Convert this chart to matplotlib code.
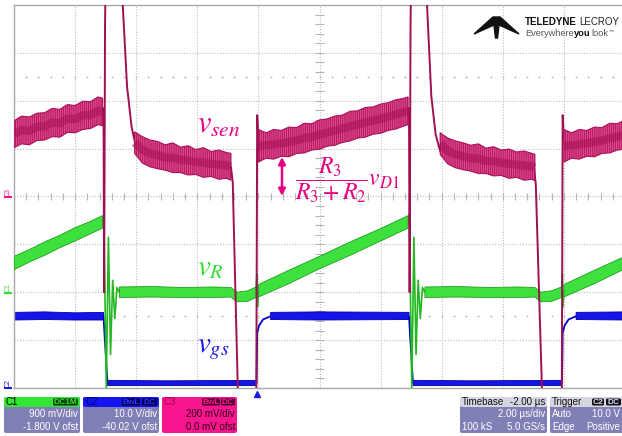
import numpy as np
import matplotlib.pyplot as plt
from matplotlib.patches import FancyBboxPatch, Polygon

plt.rcParams['mathtext.fontset'] = 'stix'
plt.rcParams['hatch.linewidth'] = 0.6

W, H = 622, 436
nan = np.nan

# time in us (2 us/div, 10 div), level in screen divisions (-4..4)
# C3 : v_sen
vsen_t = [0.00, 2.93, 2.95, 2.98, 3.02, 3.50, 3.56, 3.70, 3.85, 3.97, 4.30, 5.00, 6.00, 7.10, 7.16, 7.34,
          7.93, 7.96, 7.99, 8.05, 9.00, 10.00, 11.00, 12.00, 12.93, 12.95, 12.98, 13.02, 13.45, 13.52,
          13.66, 13.80, 13.95, 14.30, 15.00, 16.00, 17.02, 17.08, 17.30, 17.93, 17.96, 17.99, 18.05,
          19.00, 20.00]
vsen_v = [1.33, 1.84, -2.00, 3.60, 5.50, 5.50, 4.00, 2.30, 1.45, 1.10, 0.92, 0.80, 0.72, 0.62, 0.30, -4.40,
          -4.40, 1.70, 1.30, 1.05, 1.15, 1.32, 1.50, 1.66, 1.84, -2.00, 3.60, 5.50, 5.50, 4.00,
          2.10, 1.30, 0.95, 0.80, 0.72, 0.66, 0.62, 0.25, -4.40, -4.40, 1.70, 1.30, 1.05,
          1.15, 1.32]

# noise envelope of C3 (nan separates segments)
vsen_band_t = [0.0, 0.25, 0.5, 0.75, 1.0, 1.25, 1.5, 1.75, 2.0, 2.25, 2.5, 2.75, 2.9, nan,
               3.95, 4.2, 4.45, 4.7, 4.95, 5.2, 5.45, 5.7, 5.95, 6.2, 6.45, 6.7, 6.95, 7.1, nan,
               8.0, 8.25, 8.5, 8.75, 9.0, 9.25, 9.5, 9.75, 10.0, 10.25, 10.5, 10.75, 11.0, 11.25,
               11.5, 11.75, 12.0, 12.25, 12.5, 12.75, 12.9, nan,
               13.95, 14.2, 14.45, 14.7, 14.95, 15.2, 15.45, 15.7, 15.95, 16.2, 16.45, 16.7, 16.95, 17.05, nan,
               18.0, 18.25, 18.5, 18.75, 19.0, 19.25, 19.5, 19.75, 20.0]
vsen_band_hi = [1.58, 1.68, 1.66, 1.74, 1.75, 1.84, 1.82, 1.92, 1.90, 1.99, 1.98, 2.08, 2.05, nan,
                1.35, 1.25, 1.18, 1.15, 1.08, 1.12, 1.03, 1.06, 0.98, 1.02, 0.94, 0.97, 0.92, 0.90, nan,
                1.40, 1.33, 1.40, 1.38, 1.45, 1.44, 1.53, 1.52, 1.60, 1.62, 1.68, 1.70, 1.78, 1.79,
                1.86, 1.87, 1.93, 1.96, 2.02, 2.05, 2.08, nan,
                1.33, 1.22, 1.16, 1.12, 1.07, 1.10, 1.01, 1.04, 0.97, 0.99, 0.93, 0.95, 0.90, 0.88, nan,
                1.40, 1.33, 1.40, 1.38, 1.45, 1.44, 1.53, 1.52, 1.60]
vsen_band_lo = [1.02, 1.10, 1.08, 1.17, 1.18, 1.25, 1.24, 1.34, 1.33, 1.40, 1.42, 1.50, 1.48, nan,
                0.90, 0.70, 0.62, 0.58, 0.55, 0.50, 0.50, 0.45, 0.46, 0.40, 0.42, 0.36, 0.38, 0.34, nan,
                0.72, 0.80, 0.78, 0.84, 0.83, 0.90, 0.91, 0.97, 0.99, 1.05, 1.07, 1.13, 1.16, 1.22,
                1.24, 1.30, 1.32, 1.38, 1.41, 1.47, 1.50, nan,
                0.88, 0.68, 0.60, 0.56, 0.53, 0.48, 0.48, 0.43, 0.44, 0.38, 0.40, 0.34, 0.36, 0.33, nan,
                0.72, 0.80, 0.78, 0.84, 0.83, 0.90, 0.91, 0.97, 0.99]

# C1 : v_R
vr_t = [0.00, 2.90, 2.94, 3.02, 3.09, 3.16, 3.23, 3.30, 3.37, 3.45, 7.10, 7.30, 7.65, 7.92, 7.95, 7.97, 8.00,
        12.90, 12.94, 13.02, 13.09, 13.16, 13.23, 13.30, 13.37, 13.45, 17.05, 17.25, 17.60, 17.92, 17.95,
        17.97, 18.00, 20.00]
vr_v = [-1.39, -0.53, -0.38, -4.00, -0.85, -3.30, -1.75, -2.55, -1.90, -2.00, -2.00, -2.10, -2.08, -2.00, -1.62,
        -2.30, -1.97, -0.53, -0.38, -4.00, -0.85, -3.30, -1.75, -2.55, -1.90, -2.00, -2.00, -2.10, -2.08,
        -2.00, -1.62, -2.30, -1.97, -1.39]
vr_band_t = [0.0, 0.5, 1.0, 1.5, 2.0, 2.5, 2.9, nan,
             3.45, 4.5, 5.5, 6.5, 7.1, 7.3, 7.65, 7.92, nan,
             8.0, 9.0, 10.0, 11.0, 12.0, 12.9, nan,
             13.45, 14.5, 15.5, 16.5, 17.05, 17.25, 17.6, 17.92, nan,
             18.0, 19.0, 20.0]
vr_band_hi = [-1.25, -1.11, -0.95, -0.81, -0.65, -0.52, -0.40, nan,
              -1.89, -1.88, -1.90, -1.89, -1.90, -2.00, -1.97, -1.89, nan,
              -1.84, -1.54, -1.25, -0.95, -0.67, -0.40, nan,
              -1.89, -1.88, -1.90, -1.89, -1.90, -2.00, -1.97, -1.89, nan,
              -1.84, -1.54, -1.25]
vr_band_lo = [-1.53, -1.37, -1.23, -1.07, -0.93, -0.78, -0.66, nan,
              -2.11, -2.10, -2.11, -2.11, -2.10, -2.20, -2.19, -2.11, nan,
              -2.10, -1.82, -1.51, -1.23, -0.93, -0.66, nan,
              -2.11, -2.10, -2.11, -2.11, -2.10, -2.20, -2.19, -2.11, nan,
              -2.10, -1.82, -1.51]

# C2 : v_gs
vgs_t = [0.00, 2.93, 2.97, 3.06, 7.94, 7.96, 8.02, 8.15, 8.40, 12.93, 12.97, 13.06, 17.94, 17.96, 18.02,
         18.15, 18.40, 20.00]
vgs_v = [-2.50, -2.50, -2.95, -3.90, -3.90, -2.85, -2.70, -2.57, -2.50, -2.50, -2.95, -3.90, -3.90, -2.85,
         -2.70, -2.57, -2.50, -2.50]
vgs_band_t = [0.0, 1.0, 2.0, 2.93, nan, 3.06, 5.0, 7.94, nan, 8.4, 10.0, 12.93, nan,
              13.06, 15.0, 17.94, nan, 18.4, 20.0]
vgs_band_hi = [-2.42, -2.41, -2.43, -2.42, nan, -3.84, -3.85, -3.84, nan, -2.42, -2.41, -2.42, nan,
               -3.84, -3.85, -3.84, nan, -2.42, -2.41]
vgs_band_lo = [-2.58, -2.57, -2.58, -2.58, nan, -3.95, -3.95, -3.95, nan, -2.57, -2.58, -2.57, nan,
               -3.95, -3.95, -3.95, nan, -2.57, -2.58]

MAG = '#E8007E'
GRN = '#33DD33'
BLU = '#1A1AE6'

fig = plt.figure(figsize=(W / 100, H / 100), dpi=100)
fig.patch.set_facecolor('white')

ax = fig.add_axes([14 / W, 1 - 388 / H, (625 - 14) / W, 383 / H])
ax.set_xlim(0, 20)
ax.set_ylim(-4, 4)
ax.set_xticks([])
ax.set_yticks([])
for s in ax.spines.values():
    s.set_color('#A8A8A8')
    s.set_linewidth(1)

grid_kw = dict(color='#BDBDBD', lw=0.8, ls=(0, (1, 1.5)), zorder=0)
for gx in range(2, 20, 2):
    ax.axvline(gx, **grid_kw)
for gy in range(-3, 4):
    ax.axhline(gy, **grid_kw)
tk = np.arange(0.4, 20, 0.4)
ax.vlines(tk, -0.07, 0.07, color='#B5B5B5', lw=0.8, zorder=0)
ty = np.arange(-3.8, 4, 0.2)
ax.hlines(ty, 9.85, 10.15, color='#B5B5B5', lw=0.8, zorder=0)
for row in (2.5, -2.5):
    ax.plot(tk, np.full_like(tk, row), ls='none', marker='s', ms=1.1, mew=0, color='#AFAFAF', zorder=0)

# traces
ax.plot(vgs_t, vgs_v, color='#0000C8', lw=1.3, zorder=2)
ax.fill_between(vgs_band_t, vgs_band_lo, vgs_band_hi, facecolor='#1515E8', edgecolor='#0000A8',
                lw=0.6, zorder=2)
ax.plot(vr_t, vr_v, color='#22B822', lw=1.2, zorder=3)
ax.fill_between(vr_band_t, vr_band_lo, vr_band_hi, facecolor='#3DE03D', edgecolor='#1F9F1F',
                lw=0.6, zorder=3)
ax.plot(vsen_t, vsen_v, color='#A0104F', lw=1.4, zorder=4)
ax.fill_between(vsen_band_t, vsen_band_lo, vsen_band_hi, facecolor='#E24A8E', edgecolor='#A8125A',
                hatch='||||||||', lw=0.8, zorder=4)
vsen_mid = (np.array(vsen_band_lo) + np.array(vsen_band_hi)) / 2
ax.plot(vsen_band_t, vsen_mid, color='#A30F55', lw=6, alpha=0.55, solid_capstyle='butt', zorder=4)

# overlay in pixel coordinates
ov = fig.add_axes([0, 0, 1, 1])
ov.set_xlim(0, W)
ov.set_ylim(H, 0)
ov.axis('off')

ov.text(197, 133, r'$v_{sen}$', color=MAG, fontsize=22, va='baseline')
ov.text(197, 275, r'$v_R$', color=GRN, fontsize=21, va='baseline')
ov.text(197, 352, r'$v_{gs}$', color=BLU, fontsize=21, va='baseline')
ov.text(295, 180, r'$\dfrac{R_3}{R_3+R_2}v_{D1}$', color=MAG, fontsize=17, va='center')
ov.annotate('', xy=(282, 157), xytext=(282, 196),
            arrowprops=dict(arrowstyle='<|-|>', color=MAG, lw=1.8, mutation_scale=10,
                            shrinkA=0, shrinkB=0))

# channel markers on the left
for lab, yy, col in (('C3', 197, '#FF1493'), ('C1', 293, GRN), ('C2', 388, BLU)):
    ov.text(8, yy - 5, lab, color=col, fontsize=5, rotation=90, ha='center', va='center',
            family='Liberation Sans')
    ov.plot([4, 12], [yy, yy], color=col, lw=1.5, solid_capstyle='butt')

# trigger marker
ov.plot(257, 394, marker='^', ms=5, color=BLU, clip_on=False)

# logo
ov.add_patch(Polygon([(474, 34), (493, 17), (494, 25)], closed=True, color='#111111'))
ov.add_patch(Polygon([(519, 34), (500, 17), (499, 25)], closed=True, color='#111111'))
ov.add_patch(Polygon([(493, 17), (500, 17), (497.5, 38), (495.5, 38)], closed=True, color='#111111'))

renderer = fig.canvas.get_renderer()


def chain(x, y, parts, size):
    # place text pieces one after another
    for txt, weight, col, gap, fs in parts:
        t = ov.text(x, y, txt, fontsize=size * fs, fontweight=weight, family='Liberation Sans',
                    va='center' if fs == 1 else 'bottom', color=col)
        bb = t.get_window_extent(renderer)
        x = ov.transData.inverted().transform((bb.x1, bb.y0))[0] + gap


chain(525, 22, [('TELEDYNE', 'bold', '#111111', 2.2, 1), ('LECROY', 'normal', '#222222', 0, 1)], 7.0)
chain(525, 33, [('Everywhere', 'normal', '#555555', 0.3, 1), ('you', 'bold', '#111111', 0.3, 1),
                ('look', 'normal', '#555555', 0.2, 1), ('™', 'normal', '#555555', 0, 0.55)], 6.7)

# info boxes
BODY = '#8080B6'
FONT = dict(family='Liberation Sans', fontsize=7)


def box(x, w, head, body, rs=2):
    ov.add_patch(FancyBboxPatch((x, 397), w, 36, boxstyle=f'round,pad=0,rounding_size={rs}',
                                facecolor=body, edgecolor='none'))
    ov.add_patch(FancyBboxPatch((x, 397), w, 10, boxstyle=f'round,pad=0,rounding_size={rs}',
                                facecolor=head, edgecolor='none'))


def tag(x, w, text, fc, tc):
    ov.add_patch(FancyBboxPatch((x, 398.5), w, 7, boxstyle='round,pad=0,rounding_size=1.5',
                                facecolor=fc, edgecolor='none'))
    ov.text(x + w / 2, 402.2, text, color=tc, ha='center', va='center', family='Liberation Sans',
            fontsize=6, fontweight='bold')


box(4, 76, '#33E633', BODY)
ov.text(6, 402, 'C1', color='black', va='center', **FONT)
tag(53, 25, 'DC1M', '#0A3A0A', '#33E633')
ov.text(78, 414, '900 mV/div', color='white', ha='right', va='center', **FONT)
ov.text(78, 427, '-1.800 V ofst', color='white', ha='right', va='center', **FONT)

box(83, 76, '#1414F0', BODY)
ov.text(85, 402, 'C2', color='#000070', va='center', **FONT)
tag(122, 18, 'BwL', '#000050', '#3030FF')
tag(142, 15, 'DC', '#000050', '#3030FF')
ov.text(157, 414, '10.0 V/div', color='white', ha='right', va='center', **FONT)
ov.text(157, 427, '-40.02 V ofst', color='white', ha='right', va='center', **FONT)

box(162, 75, '#F8168E', '#F8168E')
ov.text(164, 402, 'C3', color='#A0004A', va='center', **FONT)
tag(202, 18, 'BwL', '#50002A', '#F8168E')
tag(221, 14, 'DC', '#50002A', '#F8168E')
ov.text(235, 414, '200 mV/div', color='#300018', ha='right', va='center', **FONT)
ov.text(235, 427, '0.0 mV ofst', color='#300018', ha='right', va='center', **FONT)

box(460, 87, '#D6D6E2', BODY)
ov.text(462, 402, 'Timebase', color='#111111', va='center', **FONT)
ov.text(545, 402, '-2.00 µs', color='#111111', va='center', ha='right', **FONT)
ov.text(545, 414, '2.00 µs/div', color='white', ha='right', va='center', **FONT)
ov.text(462, 427, '100 kS', color='white', va='center', **FONT)
ov.text(545, 427, '5.0 GS/s', color='white', ha='right', va='center', **FONT)

box(550, 80, '#D6D6E2', BODY)
ov.text(552, 402, 'Trigger', color='#111111', va='center', **FONT)
tag(592, 12, 'C2', '#111111', '#E0E0FF')
tag(606, 15, 'DC', '#111111', '#E0E0FF')
ov.text(552, 414, 'Auto', color='white', va='center', **FONT)
ov.text(620, 414, '10.0 V', color='white', ha='right', va='center', **FONT)
ov.text(552, 427, 'Edge', color='white', va='center', **FONT)
ov.text(620, 427, 'Positive', color='white', ha='right', va='center', **FONT)

fig.savefig('out.png', dpi=100)
